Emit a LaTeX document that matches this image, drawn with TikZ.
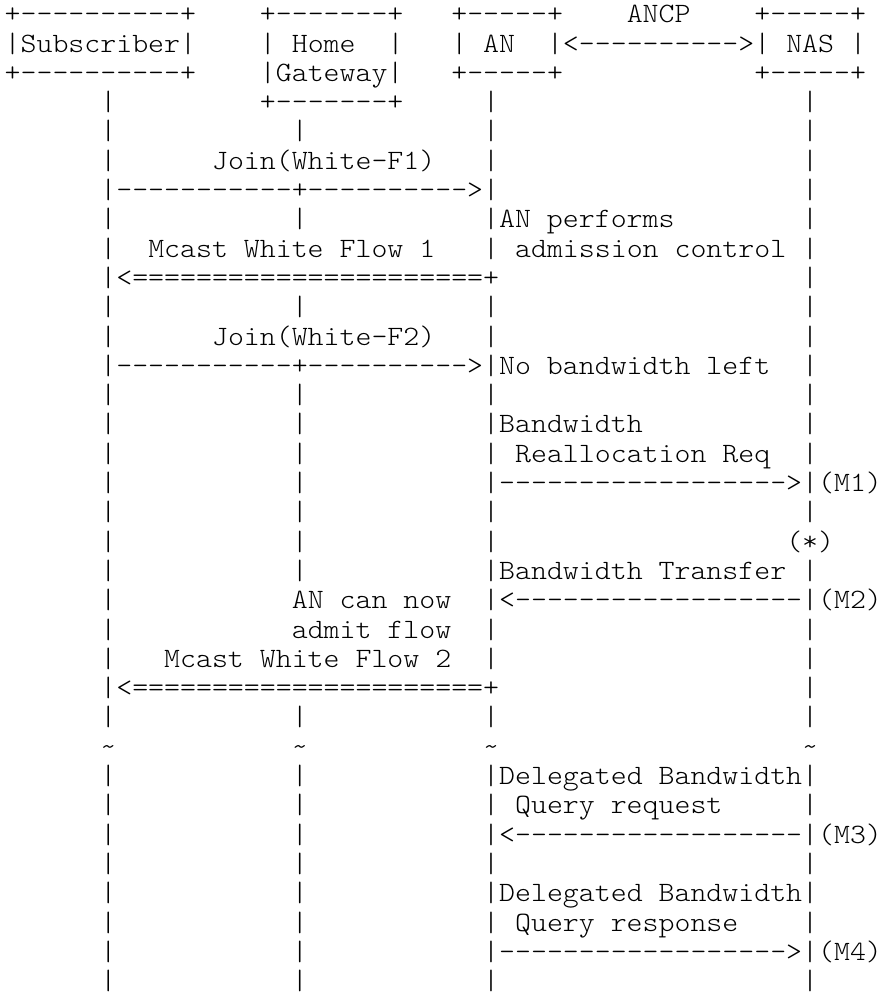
\documentclass[tikz,border=0pt]{standalone}
\usepackage{fontspec}
\newfontfamily\asc{lmmonolt10-regular.otf}[FakeStretch=1.085]
\newcommand\asch[3]{\node[ch] (c#2x#1) at ({4.7+15.95*#1},{22.7+29.3*(#2-1)}) {#3};}
\newcommand\asbar[2]{\asch{#1}{#2}{|}}
\newcommand\asbars[1]{\asbar{6}{#1}\asbar{18}{#1}\asbar{30}{#1}\asbar{50}{#1}}
\begin{document}
\begin{tikzpicture}[x=1pt,y=-1pt,
  ch/.style={anchor=base west,inner sep=0pt,outer sep=0pt,
    font=\asc\fontsize{28}{29.3}\selectfont}]
\useasboundingbox (0,0) rectangle (882,997);
% line 1
\asch{0}{1}{+----------+}
\asch{16}{1}{+-------+}
\asch{28}{1}{+-----+}
\asch{39}{1}{ANCP}
\asch{47}{1}{+-----+}
% line 2
\asch{0}{2}{|Subscriber|}
\asbar{16}{2}\asch{18}{2}{Home}\asbar{24}{2}
\asbar{28}{2}\asch{30}{2}{AN}
\asch{34}{2}{|<---------->|}
\asch{49}{2}{NAS}\asbar{53}{2}
% line 3
\asch{0}{3}{+----------+}
\asch{16}{3}{|Gateway|}
\asch{28}{3}{+-----+}
\asch{47}{3}{+-----+}
% line 4
\asbar{6}{4}\asch{16}{4}{+-------+}\asbar{30}{4}\asbar{50}{4}
% line 5
\asbars{5}
% line 6
\asbar{6}{6}\asch{13}{6}{Join(White-F1)}\asbar{30}{6}\asbar{50}{6}
% line 7
\asch{6}{7}{|-----------+---------->|}\asbar{50}{7}
% line 8
\asbar{6}{8}\asbar{18}{8}\asch{30}{8}{|AN performs}\asbar{50}{8}
% line 9
\asbar{6}{9}\asch{9}{9}{Mcast White Flow 1}\asbar{30}{9}\asch{32}{9}{admission control}\asbar{50}{9}
% line 10
\asch{6}{10}{|<======================+}\asbar{50}{10}
% line 11
\asbars{11}
% line 12
\asbar{6}{12}\asch{13}{12}{Join(White-F2)}\asbar{30}{12}\asbar{50}{12}
% line 13
\asch{6}{13}{|-----------+---------->|}\asch{31}{13}{No bandwidth left}\asbar{50}{13}
% line 14
\asbars{14}
% line 15
\asbar{6}{15}\asbar{18}{15}\asch{30}{15}{|Bandwidth}\asbar{50}{15}
% line 16
\asbar{6}{16}\asbar{18}{16}\asbar{30}{16}\asch{32}{16}{Reallocation Req}\asbar{50}{16}
% line 17
\asbar{6}{17}\asbar{18}{17}\asch{30}{17}{|------------------>|(M1)}
% line 18
\asbars{18}
% line 19
\asbar{6}{19}\asbar{18}{19}\asbar{30}{19}\asch{49}{19}{(*)}
% line 20
\asbar{6}{20}\asbar{18}{20}\asch{30}{20}{|Bandwidth Transfer}\asbar{50}{20}
% line 21
\asbar{6}{21}\asch{18}{21}{AN can now}\asch{30}{21}{|<------------------|(M2)}
% line 22
\asbar{6}{22}\asch{18}{22}{admit flow}\asbar{30}{22}\asbar{50}{22}
% line 23
\asbar{6}{23}\asch{10}{23}{Mcast White Flow 2}\asbar{30}{23}\asbar{50}{23}
% line 24
\asch{6}{24}{|<======================+}\asbar{50}{24}
% line 25
\asbars{25}
% line 26
\asch{6}{26}{\textasciitilde}\asch{18}{26}{\textasciitilde}\asch{30}{26}{\textasciitilde}\asch{50}{26}{\textasciitilde}
% line 27
\asbar{6}{27}\asbar{18}{27}\asch{30}{27}{|Delegated Bandwidth|}
% line 28
\asbar{6}{28}\asbar{18}{28}\asbar{30}{28}\asch{32}{28}{Query request}\asbar{50}{28}
% line 29
\asbar{6}{29}\asbar{18}{29}\asch{30}{29}{|<------------------|(M3)}
% line 30
\asbars{30}
% line 31
\asbar{6}{31}\asbar{18}{31}\asch{30}{31}{|Delegated Bandwidth|}
% line 32
\asbar{6}{32}\asbar{18}{32}\asbar{30}{32}\asch{32}{32}{Query response}\asbar{50}{32}
% line 33
\asbar{6}{33}\asbar{18}{33}\asch{30}{33}{|------------------>|(M4)}
% line 34
\asbars{34}
\end{tikzpicture}
\end{document}
